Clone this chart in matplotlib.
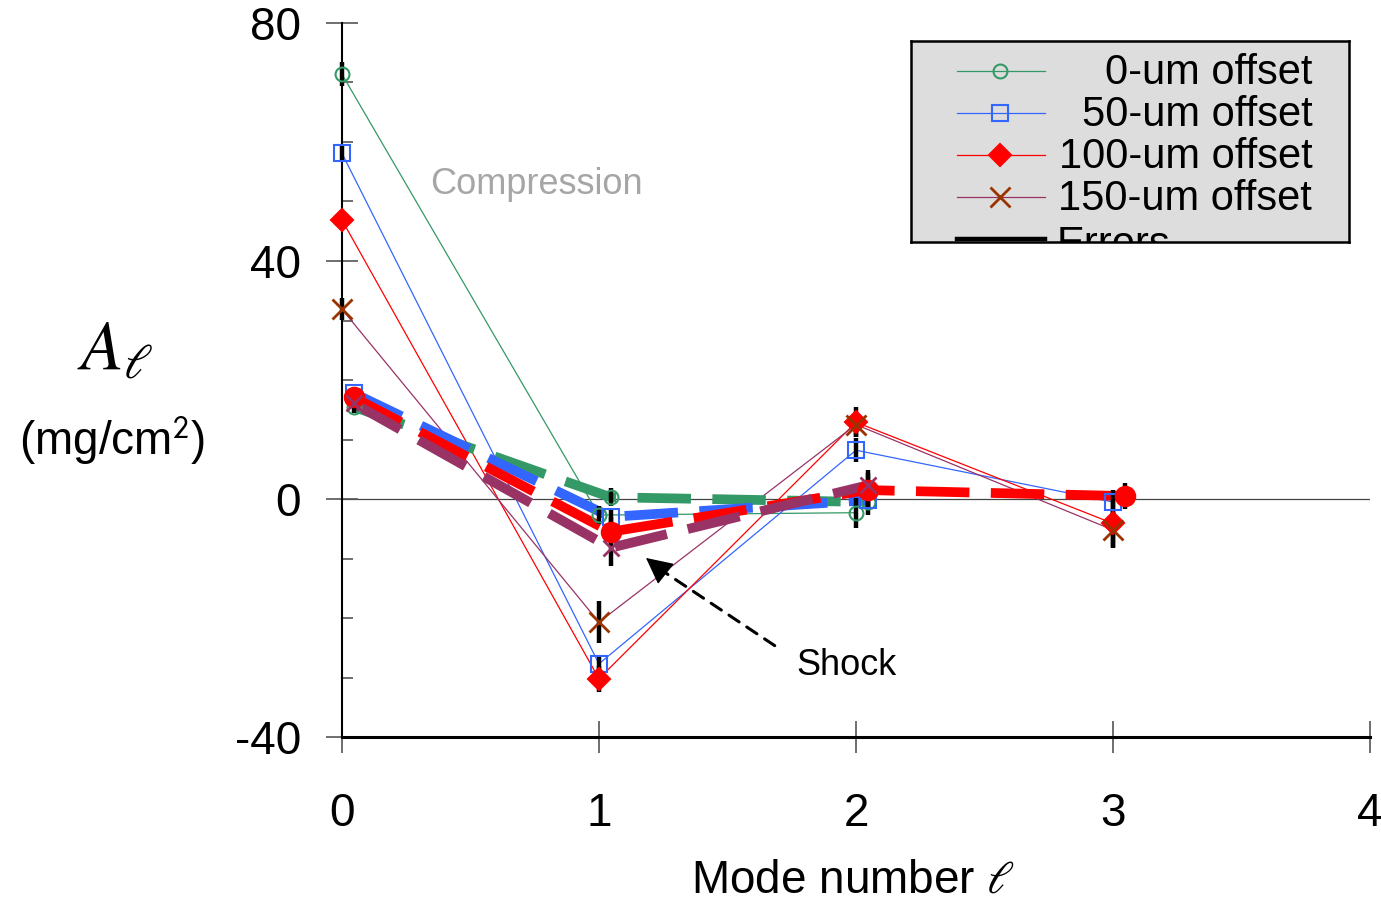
import matplotlib
matplotlib.use('Agg')
import matplotlib.pyplot as plt
import numpy as np

plt.rcParams['font.family'] = ['Liberation Sans', 'DejaVu Sans']
plt.rcParams['mathtext.fontset'] = 'stix'
plt.rcParams['axes.unicode_minus'] = False

modes = [0, 1, 2, 3]
labels = ['0-um offset', '50-um offset', '100-um offset', '150-um offset']

# thin lines with markers
a_0um = [71.4, -2.7, -2.3]
a_50um = [58.1, -27.7, 8.2, -0.5]
a_100um = [46.9, -30.2, 12.9, -4.1]
a_150um = [31.9, -20.7, 12.5, -5.2]
e_0um = [2.0, 1.5, 2.5]
e_50um = [1.3, 1.5, 2.0, 2.0]
e_100um = [1.0, 2.2, 2.5, 4.0]
e_150um = [1.8, 3.5, 2.0, 3.0]

# thick dashed lines (shock), drawn a little right of each mode
s_0um = [15.5, 0.3, -0.5]
s_50um = [17.8, -3.0, -0.2]
s_100um = [17.1, -5.5, 1.5, 0.5]
s_150um = [16.1, -8.2, 2.3]
se_0um = [1.0, 1.5, 1.0]
se_50um = [1.0, 1.5, 2.5]
se_100um = [1.0, 2.5, 3.4, 2.2]
se_150um = [1.0, 3.0, 2.0]

shift = 0.045

line_cols = ['#339966', '#3366ff', '#ff0000', '#993366']
mk_cols = ['#339966', '#3366ff', '#ff0000', '#993300']
markers = ['o', 's', 'D', 'x']
msizes = [10, 12, 11, 15]

fig = plt.figure(figsize=(13.81, 9.05), dpi=100)
ax = fig.add_axes([0.2476, 0.1856, 0.7444, 0.789])

ax.axhline(0, color='#444444', lw=0.9, zorder=1)

thin = [a_0um, a_50um, a_100um, a_150um]
thin_err = [e_0um, e_50um, e_100um, e_150um]
for i, (ys, es) in enumerate(zip(thin, thin_err)):
    xs = modes[:len(ys)]
    ax.plot(xs, ys, color=line_cols[i], lw=0.9, zorder=2, clip_on=False)
    eb = ax.errorbar(xs, ys, yerr=es, fmt='none', ecolor='k',
                     elinewidth=3.2, capsize=0, zorder=3)
    for c in eb.lines[2]:
        c.set_clip_on(False)
    filled = markers[i] in ('D', 'x')
    ax.plot(xs, ys, ls='none', marker=markers[i], ms=msizes[i],
            mfc=mk_cols[i] if filled else 'none', mec=mk_cols[i],
            mew=2 if markers[i] == 'x' else 1.5, zorder=4, clip_on=False)

shock = [s_0um, s_50um, s_100um, s_150um]
shock_err = [se_0um, se_50um, se_100um, se_150um]
shock_ms = [10, 12, 14, 12]
for i, (ys, es) in enumerate(zip(shock, shock_err)):
    xs = np.array(modes[:len(ys)]) + shift
    ax.plot(xs, ys, color=line_cols[i], lw=7, dashes=(5.5, 2.2),
            solid_capstyle='butt', dash_capstyle='butt', zorder=2)
    ax.errorbar(xs, ys, yerr=es, fmt='none', ecolor='k', elinewidth=3.2,
                capsize=0, zorder=3)
    m = 'o' if i == 2 else markers[i]
    ax.plot(xs, ys, ls='none', marker=m, ms=shock_ms[i],
            mfc=line_cols[i] if i >= 2 else 'none', mec=line_cols[i],
            mew=2 if i == 3 else 1.5, zorder=4, clip_on=False)

ax.set_xlim(0, 4)
ax.set_ylim(-40, 80)
ax.spines['top'].set_visible(False)
ax.spines['right'].set_visible(False)
ax.spines['left'].set_linewidth(1.5)
ax.spines['bottom'].set_linewidth(2.2)

ax.set_xticks([0, 1, 2, 3, 4])
ax.set_yticks([-40, 0, 40, 80])
ax.set_yticks(np.arange(-30, 80, 10), minor=True)
ax.tick_params(axis='both', which='major', direction='inout', length=23,
               width=1.2, color='#555555', labelsize=33)
ax.tick_params(axis='x', which='major', pad=28)
ax.tick_params(axis='y', which='major', pad=18)
ax.tick_params(axis='y', which='minor', direction='in', length=8,
               width=1.2, color='#555555')

fig.text(0.083, 0.612, r'$A_\ell$', fontsize=50, ha='center', va='center')
fig.text(0.081, 0.513, r'(mg/cm$^\mathsf{2}$)', fontsize=33,
         ha='center', va='center')
fig.text(0.618, 0.027, r'Mode number $\ell$', fontsize=33,
         ha='center', va='center')

ax.text(0.342, 52.8, 'Compression', fontsize=26, color='#a6a6a6',
        va='center', ha='left')
ax.text(1.77, -27.9, 'Shock', fontsize=26, va='center', ha='left')
ax.annotate('', xy=(1.21, -11.0), xytext=(1.693, -24.9),
            arrowprops=dict(arrowstyle='-', ls=(0, (4, 3)), lw=2.2, color='k'))
ax.annotate('', xy=(1.183, -9.9), xytext=(1.25, -12.2),
            arrowprops=dict(arrowstyle='-|>', lw=1, color='k',
                            mutation_scale=42, shrinkA=0, shrinkB=0))

# legend box
lax = fig.add_axes([911 / 1381, 1 - 242 / 905, 438 / 1381, 201 / 905])
lax.set_facecolor('#dddddd')
lax.set_xlim(0, 1)
lax.set_ylim(0, 1)
lax.set_xticks([])
lax.set_yticks([])
for sp in lax.spines.values():
    sp.set_linewidth(1.8)
rows = [0.851, 0.642, 0.433, 0.224, 0.015]
for i in range(4):
    filled = markers[i] in ('D', 'x')
    lax.plot([0.105, 0.306], [rows[i], rows[i]], color=line_cols[i], lw=0.9)
    lax.plot([0.203], [rows[i]], marker=markers[i], ms=msizes[i],
             mfc=mk_cols[i] if filled else 'none', mec=mk_cols[i],
             mew=2 if markers[i] == 'x' else 1.5)
    lax.text(0.916, rows[i] - 0.012, labels[i], fontsize=30, ha='right',
             va='center')
lax.plot([0.105, 0.306], [rows[4], rows[4]], color='k', lw=3.2)
lax.text(0.333, rows[4] - 0.03, 'Errors', fontsize=30, ha='left',
         va='center', clip_on=True)

fig.savefig('out.png', dpi=100)
